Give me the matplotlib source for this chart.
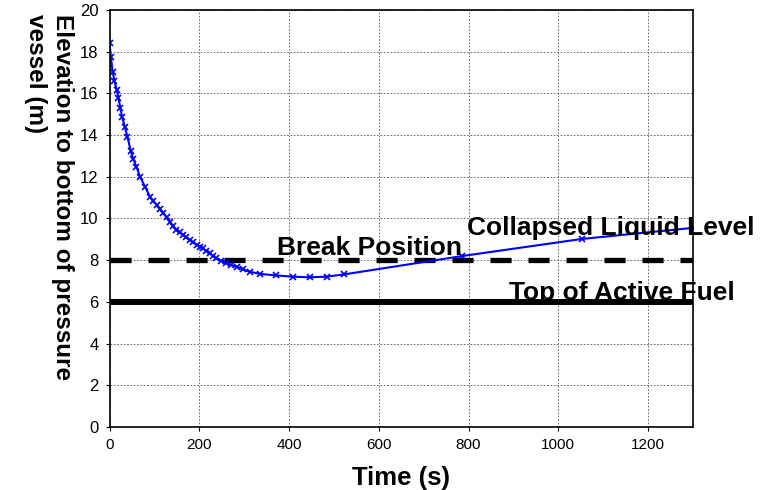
"""
Collapsed liquid level in the pressure vessel vs time.
"""
import matplotlib
matplotlib.use('Agg')
import matplotlib.pyplot as plt

plt.rcParams.update({
    'font.family':      'sans-serif',
    'font.sans-serif':  ['Liberation Sans', 'Arial', 'DejaVu Sans'],
    'axes.linewidth':   1.2,
})

# ── Data ──────────────────────────────────────────────────────────────────────
time_s = [0, 3, 7, 11, 16, 20, 24, 28, 34, 40, 47, 53, 60, 68, 79, 90, 97,
          105, 112, 120, 127, 134, 141, 149, 156, 164, 171, 179, 186, 194,
          201, 208, 215, 223, 230, 238, 249, 260, 271, 283, 297, 312, 336,
          371, 408, 446, 484, 523, 786, 1053, 1300]
level_m = [18.4, 17.76, 17.04, 16.6, 16.16, 15.8, 15.3, 14.88, 14.4, 13.92,
           13.26, 12.85, 12.48, 12.0, 11.53, 11.05, 10.85, 10.65, 10.45,
           10.25, 10.05, 9.85, 9.65, 9.45, 9.33, 9.21, 9.09, 8.97, 8.85, 8.73,
           8.65, 8.57, 8.45, 8.33, 8.21, 8.09, 7.97, 7.85, 7.77, 7.69, 7.56,
           7.45, 7.34, 7.27, 7.21, 7.18, 7.21, 7.32, 8.2, 9.02, 9.55]

break_elev = 8.0
taf_elev = 6.0

x_ticks = [0, 200, 400, 600, 800, 1000, 1200]
y_ticks = [0, 2, 4, 6, 8, 10, 12, 14, 16, 18, 20]

# ── Figure ────────────────────────────────────────────────────────────────────
fig = plt.figure(figsize=(7.68, 4.90), dpi=100)
ax = fig.add_axes([0.1426, 0.1286, 0.9023 - 0.1426, 0.9796 - 0.1286])

ax.axhline(break_elev, color='black', linewidth=3.8, linestyle=(0, (4, 3.2)))
ax.axhline(taf_elev, color='black', linewidth=4.3, linestyle='-')
ax.plot(time_s, level_m, color='#0000ff', linewidth=1.5, marker='x',
        markersize=4, markeredgewidth=1.2)

ax.text(374, 8.6, 'Break Position', fontsize=19, fontweight='bold',
        va='center', ha='left')
ax.text(797, 9.55, 'Collapsed Liquid Level', fontsize=19, fontweight='bold',
        va='center', ha='left', clip_on=False)
ax.text(890, 6.42, 'Top of Active Fuel', fontsize=19, fontweight='bold',
        va='center', ha='left', clip_on=False)

ax.set_xlim(0, 1300)
ax.set_ylim(0, 20)
ax.set_xticks(x_ticks)
ax.set_yticks(y_ticks)
ax.set_xticklabels([str(v) for v in x_ticks], fontsize=11)
ax.set_yticklabels([str(v) for v in y_ticks], fontsize=12)
ax.tick_params(direction='out', length=3, width=0.8, pad=5)
ax.grid(True, linestyle=(0, (2, 2)), linewidth=0.6, color='#555555')
ax.set_axisbelow(True)

ax.set_xlabel('Time (s)', fontsize=18.5, fontweight='bold', labelpad=10)
fig.text(49 / 768, 1 - 14 / 490,
         'Elevation to bottom of pressure\nvessel (m)',
         rotation=270, fontsize=17.5, fontweight='bold',
         ha='center', va='top', multialignment='left')

plt.savefig('out.png', dpi=100)
plt.close()
